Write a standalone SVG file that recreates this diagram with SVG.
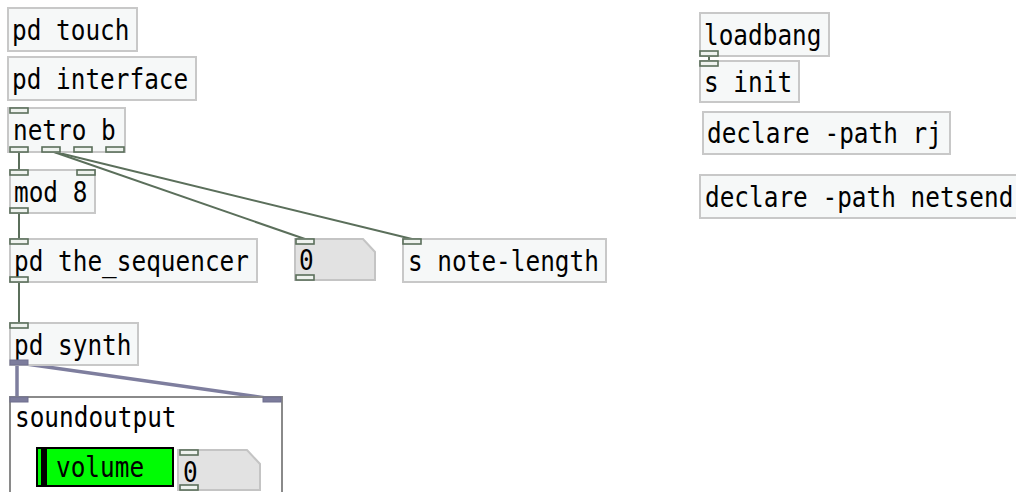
<svg xmlns="http://www.w3.org/2000/svg" width="1016" height="492" viewBox="0 0 1016 492">
<style>
.box{fill:#f6f8f8;stroke:#c8c8c8;stroke-width:2}
.num{fill:#e2e2e2;stroke:#c4c4c4;stroke-width:2}
.io{fill:#eef2ee;stroke:#5b6f5b;stroke-width:1.6}
.sio{fill:#7c7c9c;stroke:#6e6e8e;stroke-width:1}
.t{font-family:"DejaVu Sans Mono","Liberation Mono",monospace;font-size:24.4px;fill:#000}
.c{stroke:#5b6f5b;stroke-width:2;fill:none}
.s{stroke:#7e7e9e;stroke-width:3.5;fill:none}
</style>
<rect width="1016" height="492" fill="#ffffff"/>
<g id="connectors">
<line class="c" x1="19" y1="152" x2="19" y2="170"/>
<line class="c" x1="51" y1="151" x2="305" y2="239"/>
<line class="c" x1="51" y1="151" x2="412" y2="239"/>
<line class="c" x1="19" y1="213" x2="19" y2="239"/>
<line class="c" x1="19" y1="282" x2="19" y2="323"/>
<line class="c" x1="709" y1="56" x2="709" y2="61"/>
<line class="s" x1="17" y1="364" x2="17" y2="398"/>
<line class="s" x1="19" y1="363" x2="273" y2="399"/>
</g>
<g id="pd_touch">
<rect class="box" x="8" y="8" width="129" height="43"/>
<text class="t" transform="translate(12,40) scale(1,1.15)">pd touch</text>
</g>
<g id="pd_interface">
<rect class="box" x="8" y="57" width="188" height="43"/>
<text class="t" transform="translate(12,89) scale(1,1.15)">pd interface</text>
</g>
<g id="netro_b">
<rect class="box" x="8" y="108" width="117" height="44"/>
<text class="t" transform="translate(13,140) scale(1,1.15)">netro b</text>
<rect class="io" x="10" y="108" width="18" height="5"/>
<rect class="io" x="10" y="147" width="18" height="5"/>
<rect class="io" x="42" y="147" width="18" height="5"/>
<rect class="io" x="74" y="147" width="18" height="5"/>
<rect class="io" x="106" y="147" width="18" height="5"/>
</g>
<g id="mod_8">
<rect class="box" x="10" y="170" width="85" height="43"/>
<text class="t" transform="translate(14,202) scale(1,1.15)">mod 8</text>
<rect class="io" x="10" y="170" width="18" height="5"/>
<rect class="io" x="77" y="170" width="18" height="5"/>
<rect class="io" x="10" y="208" width="18" height="5"/>
</g>
<g id="pd_the_sequencer">
<rect class="box" x="10" y="239" width="247" height="43"/>
<text class="t" transform="translate(14,271) scale(1,1.15)">pd the_sequencer</text>
<rect class="io" x="10" y="239" width="18" height="5"/>
<rect class="io" x="10" y="277" width="18" height="5"/>
</g>
<g id="number_0">
<path class="num" d="M295,239 H363 L375,252 V280 H295 Z"/>
<text class="t" transform="translate(299,270) scale(1,1.15)">0</text>
<rect class="io" x="296" y="239" width="18" height="5"/>
<rect class="io" x="296" y="275" width="18" height="5"/>
</g>
<g id="s_note_length">
<rect class="box" x="403" y="239" width="203" height="43"/>
<text class="t" transform="translate(408,271) scale(1,1.15)">s note-length</text>
<rect class="io" x="403" y="239" width="18" height="5"/>
</g>
<g id="pd_synth">
<rect class="box" x="10" y="323" width="128" height="42"/>
<text class="t" transform="translate(14,355) scale(1,1.15)">pd synth</text>
<rect class="io" x="10" y="323" width="18" height="5"/>
<rect class="sio" x="10" y="360" width="18" height="5"/>
</g>
<g id="soundoutput">
<rect x="10" y="397" width="272" height="110" fill="#ffffff" stroke="#8a8a8a" stroke-width="2"/>
<rect class="sio" x="10" y="397" width="18" height="5"/>
<rect class="sio" x="263" y="397" width="18" height="5"/>
<text class="t" transform="translate(15,427) scale(1,1.15)">soundoutput</text>
<rect x="37" y="448" width="136" height="38" fill="#00fc04" stroke="#000" stroke-width="2"/>
<rect x="41" y="449" width="6" height="36" fill="#000"/>
<text class="t" transform="translate(56,477) scale(1,1.15)">volume</text>
<path class="num" d="M178,450 H247 L260,464 V490 H178 Z"/>
<text class="t" transform="translate(183,482) scale(1,1.15)">0</text>
<rect class="io" x="180" y="450" width="18" height="5"/>
<rect class="io" x="180" y="485" width="18" height="5"/>
</g>
<g id="loadbang">
<rect class="box" x="700" y="13" width="129" height="43"/>
<text class="t" transform="translate(704,45) scale(1,1.15)">loadbang</text>
<rect class="io" x="700" y="51" width="18" height="5"/>
</g>
<g id="s_init">
<rect class="box" x="700" y="61" width="99" height="41"/>
<text class="t" transform="translate(704,92) scale(1,1.15)">s init</text>
<rect class="io" x="700" y="61" width="18" height="5"/>
</g>
<g id="declare_rj">
<rect class="box" x="703" y="112" width="247" height="42"/>
<text class="t" transform="translate(707,143) scale(1,1.15)">declare -path rj</text>
</g>
<g id="declare_netsend">
<rect class="box" x="700" y="175" width="330" height="43"/>
<text class="t" transform="translate(705,207) scale(1,1.15)">declare -path netsend</text>
</g>
</svg>
